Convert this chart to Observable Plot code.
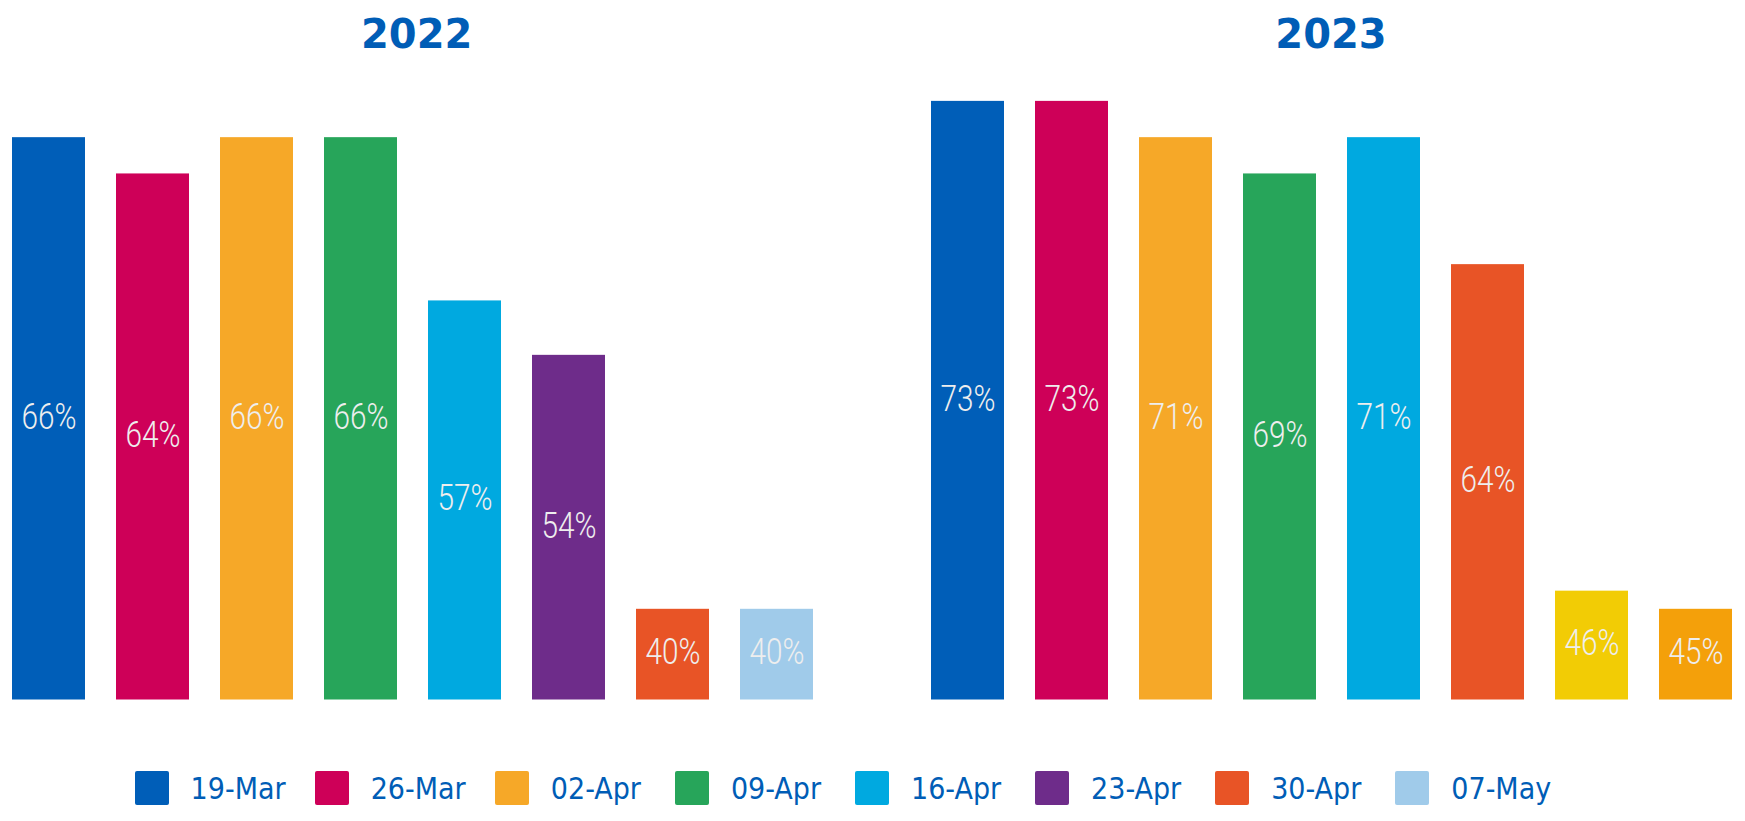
<!DOCTYPE html>
<html>
<head>
<meta charset="utf-8">
<script src="https://cdn.jsdelivr.net/npm/d3@7"></script>
<script src="https://cdn.jsdelivr.net/npm/@observablehq/plot@0.6"></script>
<style>
  html, body { margin: 0; padding: 0; background: #ffffff; }
  #root { position: relative; width: 1745px; height: 821px; overflow: hidden; }
  .title { position: absolute; top: 14px; font-family: "DejaVu Sans", sans-serif; font-weight: bold;
           font-size: 40px; line-height: 40px; color: #005DB6; transform: translateX(-50%); white-space: nowrap; }
  .panel { position: absolute; top: 70px; }
  .sw { position: absolute; width: 34px; height: 34px; border-radius: 2px; top: 771px; }
  .lt { position: absolute; top: 774px; font-family: "DejaVu Sans Condensed", "DejaVu Sans", sans-serif;
        font-stretch: condensed; font-size: 30px; line-height: 30px; color: #005DB6; white-space: nowrap; }
</style>
</head>
<body>
<div id="root"></div>
<script>
// ---- data ----
const weeks = ["19-Mar", "26-Mar", "02-Apr", "09-Apr", "16-Apr", "23-Apr", "30-Apr", "07-May"];
const years = ["2022", "2023"];
const values2022 = [66, 64, 66, 66, 57, 54, 40, 40];
const values2023 = [73, 73, 71, 69, 71, 64, 46, 45];
const colors2022 = ["#005EB8", "#CE0058", "#F6A828", "#27A55A", "#00A9E0", "#6E2C8A", "#E85426", "#A0CBEA"];
const colors2023 = ["#005EB8", "#CE0058", "#F6A828", "#27A55A", "#00A9E0", "#E85426", "#F2CC05", "#F4A00A"];
const legendLabels = weeks;
const legendColors = colors2022;

// ---- layout ----
const root = document.getElementById("root");
const pxPerPct = 18.14;
const plotH = 660, mBottom = 30.5;

function panel(values, colors, base, width, ml, mr) {
  const data = weeks.map((w, i) => ({week: w, value: values[i], color: colors[i]}));
  const svg = Plot.plot({
    width, height: plotH,
    marginTop: 0, marginBottom: mBottom, marginLeft: ml, marginRight: mr,
    x: {domain: weeks, paddingInner: 0.299, paddingOuter: 0, axis: null},
    y: {domain: [base, base + (plotH - mBottom) / pxPerPct], axis: null},
    color: {type: "identity"},
    marks: [
      Plot.barY(data, {x: "week", y1: base, y2: "value", fill: "color"}),
      Plot.text(data, {
        x: "week", y: d => (d.value + base) / 2, text: d => d.value + "%",
        fill: "#eeeeee", fontSize: 37, fontWeight: 300, fontFamily: "Roboto", dy: -2
      })
    ]
  });
  svg.querySelectorAll('g[aria-label="text"] text').forEach(t => {
    t.setAttribute("textLength", 55);
    t.setAttribute("lengthAdjust", "spacingAndGlyphs");
  });
  return svg;
}

const p1 = panel(values2022, colors2022, 35, 872, 11.3, 59);
p1.classList.add("panel"); p1.style.left = "0px";
root.appendChild(p1);
const p2 = panel(values2023, colors2023, 40, 873, 58.3, 12.7);
p2.classList.add("panel"); p2.style.left = "872px";
root.appendChild(p2);

const titleX = [416.7, 1331];
years.forEach((y, i) => {
  const d = document.createElement("div");
  d.className = "title"; d.textContent = y; d.style.left = titleX[i] + "px";
  root.appendChild(d);
});

legendLabels.forEach((lab, i) => {
  const x = 134.6 + i * 180.1;
  const s = document.createElement("div");
  s.className = "sw"; s.style.left = x + "px"; s.style.background = legendColors[i];
  root.appendChild(s);
  const t = document.createElement("div");
  t.className = "lt"; t.style.left = (x + 56) + "px"; t.textContent = lab;
  root.appendChild(t);
});
</script>
</body>
</html>
